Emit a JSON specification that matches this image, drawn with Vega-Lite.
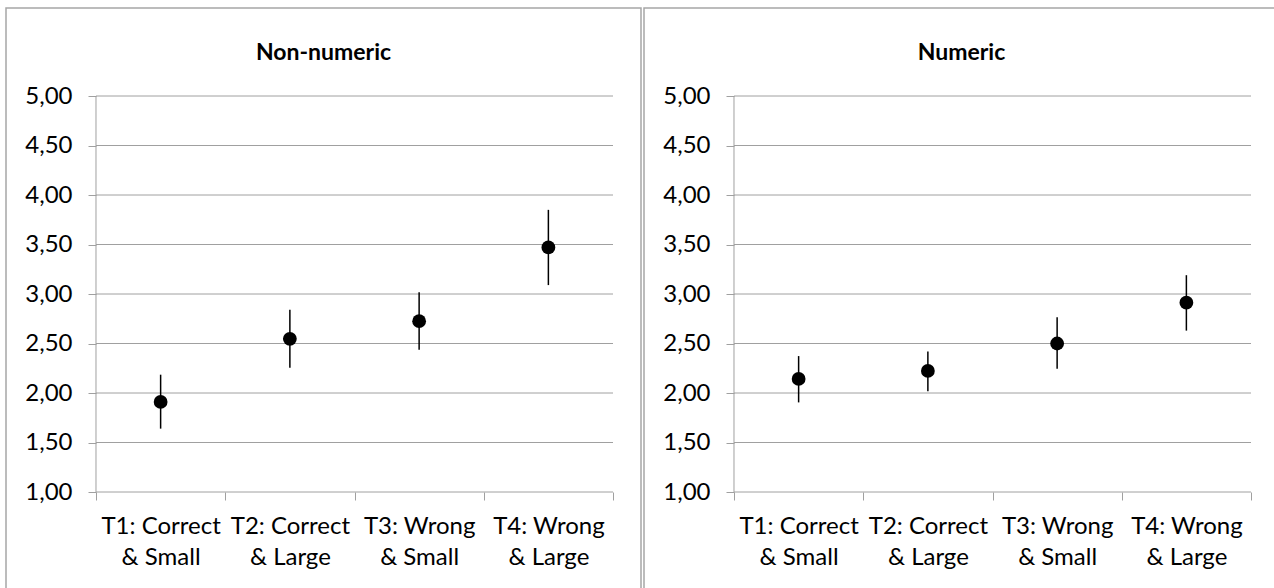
{
  "$schema": "https://vega.github.io/schema/vega-lite/v6.json",
  "padding": {"left": 5, "top": 7, "right": 0, "bottom": 0},
  "background": "white",
  "spacing": 1,
  "datasets": {
    "grid": [{"g": 1}, {"g": 1.5}, {"g": 2}, {"g": 2.5}, {"g": 3}, {"g": 3.5}, {"g": 4}, {"g": 4.5}, {"g": 5}],
    "nonnumeric": [
      {"t": 1, "cond": "T1: Correct & Small", "mean": 1.91, "lo": 1.64, "hi": 2.185},
      {"t": 2, "cond": "T2: Correct & Large", "mean": 2.547, "lo": 2.255, "hi": 2.84},
      {"t": 3, "cond": "T3: Wrong & Small", "mean": 2.725, "lo": 2.437, "hi": 3.017},
      {"t": 4, "cond": "T4: Wrong & Large", "mean": 3.47, "lo": 3.09, "hi": 3.85}
    ],
    "numeric": [
      {"t": 1, "cond": "T1: Correct & Small", "mean": 2.142, "lo": 1.905, "hi": 2.373},
      {"t": 2, "cond": "T2: Correct & Large", "mean": 2.223, "lo": 2.017, "hi": 2.42},
      {"t": 3, "cond": "T3: Wrong & Small", "mean": 2.5, "lo": 2.244, "hi": 2.765},
      {"t": 4, "cond": "T4: Wrong & Large", "mean": 2.912, "lo": 2.63, "hi": 3.19}
    ]
  },
  "config": {
    "view": {"stroke": "#a6a6a6", "strokeWidth": 1.5},
    "font": "Lato",
    "title": {"font": "Lato", "fontSize": 23, "fontWeight": "bold", "color": "black", "anchor": "middle", "offset": -57, "frame": "group"},
    "axis": {"labelFont": "Lato", "labelFontSize": 24, "labelColor": "black", "title": null, "grid": false, "domain": false, "tickColor": "#a0a0a0", "tickSize": 8, "labelOverlap": false, "labelFlush": false}
  },
  "hconcat": [
    {
      "title": {"text": "Non-numeric"},
      "width": 635,
      "height": 585,
      "resolve": {"axis": {"x": "independent", "y": "independent"}},
      "layer": [
        {
          "data": {"name": "grid"},
          "mark": {"type": "rule", "color": "#a0a0a0", "strokeWidth": 1},
          "encoding": {
            "y": {"field": "g", "type": "quantitative", "scale": {"domain": [-0.0202, 5.8889], "nice": false, "zero": false},
                  "axis": {"orient": "left", "values": [1, 1.5, 2, 2.5, 3, 3.5, 4, 4.5, 5], "offset": -90, "labelPadding": 16, "labelExpr": "replace(format(datum.value, '.2f'), '.', ',')"}},
            "x": {"datum": 0.5, "type": "quantitative", "scale": {"domain": [-0.1963, 4.7166], "nice": false, "zero": false},
                  "axis": {"orient": "bottom", "values": [0.5, 1.5, 2.5, 3.5, 4.5], "offset": -101, "labels": false}},
            "x2": {"datum": 4.5}
          }
        },
        {
          "data": {"values": [{}]},
          "mark": {"type": "rule", "color": "#a0a0a0", "strokeWidth": 1},
          "encoding": {
            "x": {"datum": 0.5, "type": "quantitative", "axis": null},
            "y": {"datum": 1, "type": "quantitative", "axis": null},
            "y2": {"datum": 5}
          }
        },
        {
          "data": {"name": "nonnumeric"},
          "mark": {"type": "rule", "color": "black", "strokeWidth": 1.5},
          "encoding": {
            "x": {"field": "t", "type": "quantitative",
                  "axis": {"orient": "bottom", "values": [1, 2, 3, 4], "ticks": false, "offset": -101, "labelPadding": 22, "labelLineHeight": 31,
                           "labelExpr": "[split(datum.value == 1 ? 'T1: Correct & Small' : datum.value == 2 ? 'T2: Correct & Large' : datum.value == 3 ? 'T3: Wrong & Small' : 'T4: Wrong & Large', ' & ')[0], '& ' + split(datum.value == 1 ? 'T1: Correct & Small' : datum.value == 2 ? 'T2: Correct & Large' : datum.value == 3 ? 'T3: Wrong & Small' : 'T4: Wrong & Large', ' & ')[1]]"}},
            "y": {"field": "lo", "type": "quantitative", "axis": null},
            "y2": {"field": "hi"}
          }
        },
        {
          "data": {"name": "nonnumeric"},
          "mark": {"type": "point", "filled": true, "shape": "circle", "size": 190, "color": "black", "opacity": 1},
          "encoding": {
            "x": {"field": "t", "type": "quantitative", "axis": null},
            "y": {"field": "mean", "type": "quantitative", "axis": null}
          }
        }
      ]
    },
    {
      "title": {"text": "Numeric"},
      "width": 635,
      "height": 585,
      "resolve": {"axis": {"x": "independent", "y": "independent"}},
      "layer": [
        {
          "data": {"name": "grid"},
          "mark": {"type": "rule", "color": "#a0a0a0", "strokeWidth": 1},
          "encoding": {
            "y": {"field": "g", "type": "quantitative", "scale": {"domain": [-0.0202, 5.8889], "nice": false, "zero": false},
                  "axis": {"orient": "left", "values": [1, 1.5, 2, 2.5, 3, 3.5, 4, 4.5, 5], "offset": -90, "labelPadding": 16, "labelExpr": "replace(format(datum.value, '.2f'), '.', ',')"}},
            "x": {"datum": 0.5, "type": "quantitative", "scale": {"domain": [-0.1963, 4.7166], "nice": false, "zero": false},
                  "axis": {"orient": "bottom", "values": [0.5, 1.5, 2.5, 3.5, 4.5], "offset": -101, "labels": false}},
            "x2": {"datum": 4.5}
          }
        },
        {
          "data": {"values": [{}]},
          "mark": {"type": "rule", "color": "#a0a0a0", "strokeWidth": 1},
          "encoding": {
            "x": {"datum": 0.5, "type": "quantitative", "axis": null},
            "y": {"datum": 1, "type": "quantitative", "axis": null},
            "y2": {"datum": 5}
          }
        },
        {
          "data": {"name": "numeric"},
          "mark": {"type": "rule", "color": "black", "strokeWidth": 1.5},
          "encoding": {
            "x": {"field": "t", "type": "quantitative",
                  "axis": {"orient": "bottom", "values": [1, 2, 3, 4], "ticks": false, "offset": -101, "labelPadding": 22, "labelLineHeight": 31,
                           "labelExpr": "[split(datum.value == 1 ? 'T1: Correct & Small' : datum.value == 2 ? 'T2: Correct & Large' : datum.value == 3 ? 'T3: Wrong & Small' : 'T4: Wrong & Large', ' & ')[0], '& ' + split(datum.value == 1 ? 'T1: Correct & Small' : datum.value == 2 ? 'T2: Correct & Large' : datum.value == 3 ? 'T3: Wrong & Small' : 'T4: Wrong & Large', ' & ')[1]]"}},
            "y": {"field": "lo", "type": "quantitative", "axis": null},
            "y2": {"field": "hi"}
          }
        },
        {
          "data": {"name": "numeric"},
          "mark": {"type": "point", "filled": true, "shape": "circle", "size": 190, "color": "black", "opacity": 1},
          "encoding": {
            "x": {"field": "t", "type": "quantitative", "axis": null},
            "y": {"field": "mean", "type": "quantitative", "axis": null}
          }
        }
      ]
    }
  ]
}
